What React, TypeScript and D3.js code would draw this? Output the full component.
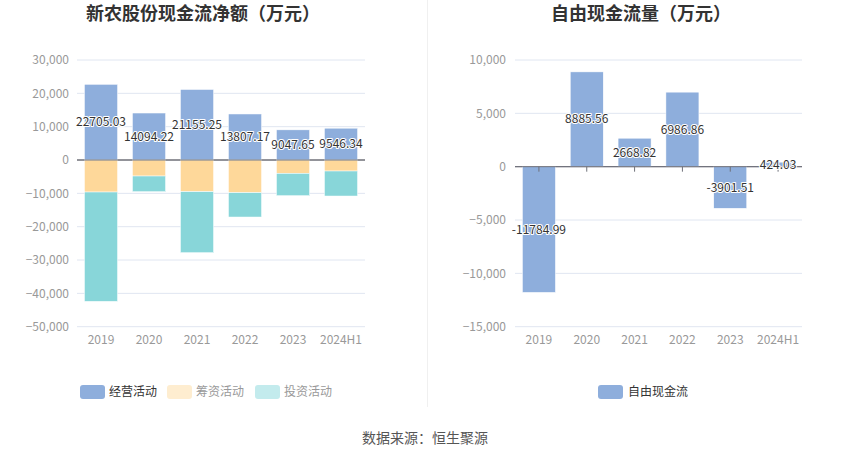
import * as d3 from 'd3';

const FONT = '"Noto Sans CJK SC", "Noto Sans", sans-serif';

const years = ['2019', '2020', '2021', '2022', '2023', '2024H1'];
const operating = [22705.03, 14094.22, 21155.25, 13807.17, 9047.65, 9546.34];
const financing = [-9600, -4800, -9500, -9800, -4000, -3300];
const investing = [-32800, -4700, -18300, -7300, -6700, -7500];
const freeCash = [-11784.99, 8885.56, 2668.82, 6986.86, -3901.51, 424.03];

const leftTicks = [30000, 20000, 10000, 0, -10000, -20000, -30000, -40000, -50000];
const rightTicks = [10000, 5000, 0, -5000, -10000, -15000];

const seriesNames = ['经营活动', '筹资活动', '投资活动'];
const barColors = ['#8eaedc', '#fed89a', '#88d6d9'];
const legendColors = ['#8eaedc', '#feedd0', '#c3ebed'];
const legendText = ['#333', '#999', '#999'];

const GRID = '#e0e6f1';
const AXIS = '#6e7079';
const TICK_TEXT = '#999';

const fmt = d3.format(',');

function Label({ x, y, text }: any) {
  return (
    <text x={x} y={y} dy="0.35em" textAnchor="middle" fontSize={12} fill="#333"
      stroke="#fff" strokeWidth={2} paintOrder="stroke" strokeLinejoin="round">
      {text}
    </text>
  );
}

function LeftChart() {
  const x = d3.scaleBand().domain(years).range([77, 365]);
  const y = d3.scaleLinear().domain([-50000, 30000]).range([326.7, 60]);
  const bw = x.bandwidth() * 0.69;

  const table = years.map((yr, i) => ({
    year: yr,
    [seriesNames[0]]: operating[i],
    [seriesNames[1]]: financing[i],
    [seriesNames[2]]: investing[i],
  }));
  const stacked = d3.stack<any>().keys(seriesNames).offset(d3.stackOffsetDiverging)(table);

  return (
    <g>
      <text x={203} y={20} textAnchor="middle" fontSize={18} fontWeight="bold" fill="#333">
        新农股份现金流净额（万元）
      </text>
      {leftTicks.map((t) => (
        <g key={t}>
          <line x1={77} x2={365} y1={y(t)} y2={y(t)} stroke={t === 0 ? AXIS : GRID} />
          <text x={69} y={y(t)} dy="0.35em" textAnchor="end" fontSize={12} fill={TICK_TEXT}>
            {fmt(t)}
          </text>
        </g>
      ))}
      {stacked.map((s, si) => (
        <g key={s.key}>
          {s.map((d: any, i: number) => (
            <rect key={i} x={(x(years[i]) as number) + (x.bandwidth() - bw) / 2}
              y={y(Math.max(d[0], d[1]))} width={bw}
              height={Math.abs(y(d[0]) - y(d[1]))} fill={barColors[si]}
              stroke="#fff" strokeWidth={0.5} />
          ))}
        </g>
      ))}
      <line x1={77} x2={365} y1={y(0)} y2={y(0)} stroke={AXIS} />
      {years.map((yr, i) => (
        <g key={yr}>
          <text x={(x(yr) as number) + x.bandwidth() / 2} y={340} dy="0.35em" textAnchor="middle"
            fontSize={12} fill={TICK_TEXT}>{yr}</text>
          <Label x={(x(yr) as number) + x.bandwidth() / 2} y={(y(0) + y(operating[i])) / 2}
            text={operating[i].toFixed(2)} />
        </g>
      ))}
      {seriesNames.map((n, i) => {
        const lx = [80, 167, 255][i];
        return (
          <g key={n}>
            <rect x={lx} y={385} width={25} height={14} rx={3} fill={legendColors[i]} />
            <text x={lx + 29} y={392} dy="0.35em" fontSize={12} fill={legendText[i]}>{n}</text>
          </g>
        );
      })}
    </g>
  );
}

function RightChart() {
  const x = d3.scaleBand().domain(years).range([515, 802]);
  const y = d3.scaleLinear().domain([-15000, 10000]).range([326.7, 60]);
  const bw = x.bandwidth() * 0.69;

  return (
    <g>
      <text x={641} y={20} textAnchor="middle" fontSize={18} fontWeight="bold" fill="#333">
        自由现金流量（万元）
      </text>
      {rightTicks.map((t) => (
        <g key={t}>
          <line x1={515} x2={802} y1={y(t)} y2={y(t)} stroke={t === 0 ? AXIS : GRID} />
          <text x={506} y={y(t)} dy="0.35em" textAnchor="end" fontSize={12} fill={TICK_TEXT}>
            {fmt(t)}
          </text>
        </g>
      ))}
      {freeCash.map((v, i) => (
        <rect key={i} x={(x(years[i]) as number) + (x.bandwidth() - bw) / 2}
          y={y(Math.max(0, v))} width={bw} height={Math.abs(y(v) - y(0))}
          fill={barColors[0]} stroke="#fff" strokeWidth={0.5} />
      ))}
      <line x1={515} x2={802} y1={y(0)} y2={y(0)} stroke={AXIS} />
      {years.map((yr, i) => {
        const cx = (x(yr) as number) + x.bandwidth() / 2;
        return (
          <g key={yr}>
            <line x1={cx} x2={cx} y1={y(0)} y2={y(0) + 5} stroke={AXIS} />
            <text x={cx} y={340} dy="0.35em" textAnchor="middle" fontSize={12} fill={TICK_TEXT}>{yr}</text>
            <Label x={cx} y={(y(0) + y(freeCash[i])) / 2} text={freeCash[i].toFixed(2)} />
          </g>
        );
      })}
      <rect x={598} y={385} width={25} height={14} rx={3} fill={legendColors[0]} />
      <text x={628} y={392} dy="0.35em" fontSize={12} fill="#333">自由现金流</text>
    </g>
  );
}

export default function App() {
  return (
    <svg width={850} height={459} style={{ position: 'absolute', left: 0, top: 0, background: '#fff' }}
      fontFamily={FONT}>
      <rect width={850} height={459} fill="#fff" />
      <line x1={427.5} x2={427.5} y1={0} y2={407} stroke="#f0f0f0" />
      <LeftChart />
      <RightChart />
      <text x={425} y={438} dy="0.35em" textAnchor="middle" fontSize={14} fill="#555">
        数据来源：恒生聚源
      </text>
    </svg>
  );
}
